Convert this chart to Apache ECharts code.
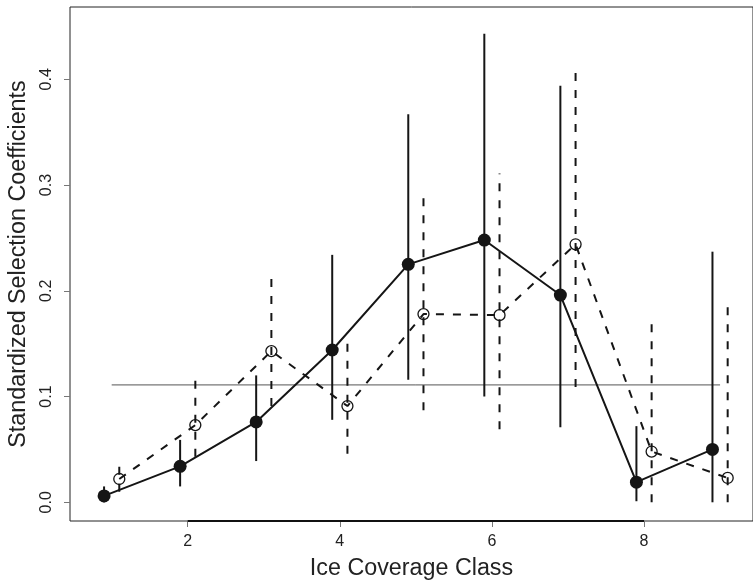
<!DOCTYPE html>
<html>
<head>
<meta charset="utf-8">
<script src="https://cdn.jsdelivr.net/npm/echarts@6/dist/echarts.min.js"></script>
<style>
html,body{margin:0;padding:0;background:#fff;}
#chart{width:753px;height:581px;}
</style>
</head>
<body>
<div id="chart"></div>
<script>
// ice coverage classes, two groups dodged either side of the class
var classes = [1, 2, 3, 4, 5, 6, 7, 8, 9];
var dodge = 0.1;

// filled points, solid line
var solidMean = [0.006, 0.034, 0.076, 0.144, 0.225, 0.248, 0.196, 0.019, 0.050];
var solidLow  = [0.000, 0.015, 0.039, 0.078, 0.116, 0.100, 0.071, 0.001, 0.000];
var solidHigh = [0.015, 0.059, 0.120, 0.234, 0.367, 0.443, 0.394, 0.072, 0.237];

// open points, dashed line
var openMean = [0.022, 0.073, 0.143, 0.091, 0.178, 0.177, 0.244, 0.048, 0.023];
var openLow  = [0.010, 0.043, 0.091, 0.046, 0.087, 0.069, 0.109, 0.000, 0.000];
var openHigh = [0.034, 0.116, 0.213, 0.154, 0.294, 0.311, 0.411, 0.174, 0.188];

// horizontal reference (1/9)
var refValue = 0.111;
var refFrom = 1, refTo = 9;

var xTicks = [2, 4, 6, 8];
var yTicks = [0.0, 0.1, 0.2, 0.3, 0.4];

var xMin = 0.452, xMax = 9.433;
var yMin = -0.0177, yMax = 0.4684;

var FONT = "'Liberation Sans', Arial, sans-serif";

var solidPts = [], openPts = [], solidBars = [], openBars = [];
for (var i = 0; i < classes.length; i++) {
    solidPts.push([classes[i] - dodge, solidMean[i]]);
    openPts.push([classes[i] + dodge, openMean[i]]);
    solidBars.push([classes[i] - dodge, solidLow[i], solidHigh[i]]);
    openBars.push([classes[i] + dodge, openLow[i], openHigh[i]]);
}

function barRenderer(dash) {
    return function (params, api) {
        var x = api.value(0);
        var p1 = api.coord([x, api.value(1)]);
        var p2 = api.coord([x, api.value(2)]);
        return {
            type: 'line',
            shape: {x1: p1[0], y1: p1[1], x2: p2[0], y2: p2[1]},
            style: {stroke: '#151515', lineWidth: 2, lineDash: dash}
        };
    };
}

var myChart = echarts.init(document.getElementById('chart'));

var option = {
    animation: false,
    backgroundColor: '#fff',
    grid: {
        left: 70, top: 7, right: 0, bottom: 60,
        outerBoundsMode: 'none',
        show: true, borderColor: '#222', borderWidth: 1
    },
    xAxis: {
        type: 'value',
        min: xMin, max: xMax,
        name: 'Ice Coverage Class',
        nameLocation: 'middle',
        nameGap: 36,
        nameTextStyle: {fontFamily: FONT, fontSize: 23.3, color: '#222'},
        axisLine: {show: false, onZero: false},
        splitLine: {show: false},
        axisTick: {show: true, customValues: xTicks, length: 6, lineStyle: {color: '#777', width: 1}},
        axisLabel: {customValues: xTicks, margin: 13, fontFamily: FONT, fontSize: 16, color: '#222'}
    },
    yAxis: {
        type: 'value',
        min: yMin, max: yMax,
        name: 'Standardized Selection Coefficients',
        nameLocation: 'middle',
        nameGap: 40,
        nameTextStyle: {fontFamily: FONT, fontSize: 23.3, color: '#222'},
        axisLine: {show: false, onZero: false},
        splitLine: {show: false},
        axisTick: {show: true, customValues: yTicks, length: 6, lineStyle: {color: '#777', width: 1}},
        axisLabel: {
            customValues: yTicks, rotate: 90, margin: 15,
            fontFamily: FONT, fontSize: 16, color: '#222',
            formatter: function (v) { return v.toFixed(1); }
        }
    },
    series: [
        {
            name: 'axis',
            type: 'line',
            data: [[xTicks[0], yMin], [xTicks[xTicks.length - 1], yMin]],
            symbol: 'none',
            lineStyle: {color: '#111', width: 2},
            silent: true, z: 1
        },
        {
            name: 'reference',
            type: 'line',
            data: [[refFrom, refValue], [refTo, refValue]],
            symbol: 'none',
            lineStyle: {color: '#555', width: 1},
            silent: true, z: 1
        },
        {
            name: 'solid bars',
            type: 'custom',
            data: solidBars,
            renderItem: barRenderer(null),
            z: 2
        },
        {
            name: 'open bars',
            type: 'custom',
            data: openBars,
            renderItem: barRenderer([8, 9]),
            z: 2
        },
        {
            name: 'open',
            type: 'line',
            data: openPts,
            symbol: 'circle',
            symbolSize: 11,
            lineStyle: {color: '#151515', width: 2, type: [8, 9]},
            itemStyle: {color: 'rgba(0,0,0,0)', borderColor: '#151515', borderWidth: 1.3},
            z: 3
        },
        {
            name: 'solid',
            type: 'line',
            data: solidPts,
            symbol: 'circle',
            symbolSize: 13,
            lineStyle: {color: '#151515', width: 2},
            itemStyle: {color: '#151515'},
            z: 4
        }
    ]
};

myChart.setOption(option, true);
</script>
</body>
</html>
